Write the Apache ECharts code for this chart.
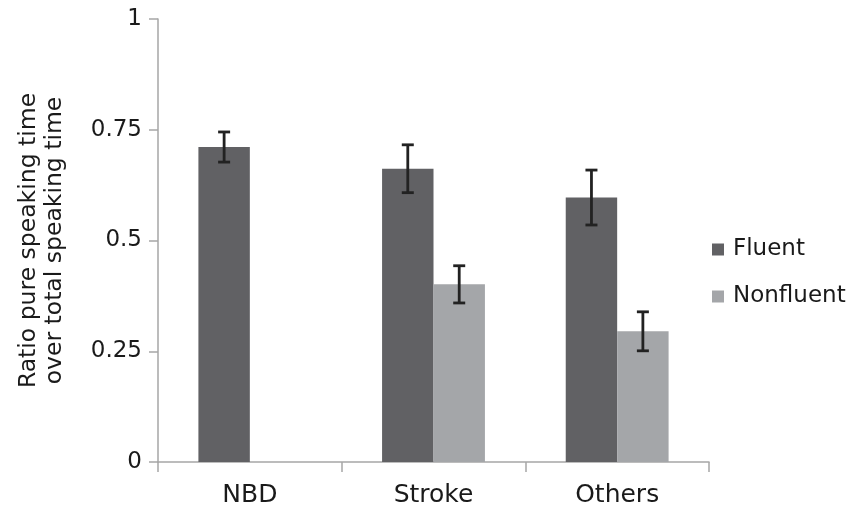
<!DOCTYPE html>
<html>
<head>
<meta charset="utf-8">
<script src="https://cdn.jsdelivr.net/npm/echarts@6/dist/echarts.min.js"></script>
<style>
html,body{margin:0;padding:0;background:#fff;}
#chart{width:855px;height:515px;}
</style>
</head>
<body>
<div id="chart"></div>
<script>
const categories = ['NBD', 'Stroke', 'Others'];
const seriesNames = ['Fluent', 'Nonfluent'];
const fluentMean = [0.711, 0.662, 0.597];
const fluentErr = [0.034, 0.054, 0.062];
const nonfluentMean = [null, 0.401, 0.295];
const nonfluentErr = [null, 0.042, 0.044];
const yTicks = [0, 0.25, 0.5, 0.75, 1];

const FONT = 'DejaVu Sans';
const colors = ['#616164', '#a4a6a9'];
const catGap = 0.44;

function errData(means, errs) {
  const out = [];
  means.forEach((m, i) => {
    if (m != null && errs[i] != null) out.push([i, m - errs[i], m + errs[i]]);
  });
  return out;
}

function errSeries(idx, means, errs) {
  return {
    type: 'custom',
    name: seriesNames[idx],
    z: 10,
    silent: true,
    data: errData(means, errs),
    encode: { x: 0, y: [1, 2] },
    renderItem: function (params, api) {
      const band = api.size([1, 0])[0];
      const barW = band * (1 - catGap) / 2;
      const off = (idx === 0 ? -1 : 1) * barW / 2;
      const lo = api.coord([api.value(0), api.value(1)]);
      const hi = api.coord([api.value(0), api.value(2)]);
      const x = lo[0] + off;
      const cap = 6;
      const style = { stroke: '#222', lineWidth: 2.8, fill: null };
      return {
        type: 'group',
        children: [
          { type: 'line', shape: { x1: x, y1: lo[1], x2: x, y2: hi[1] }, style: style },
          { type: 'line', shape: { x1: x - cap, y1: lo[1], x2: x + cap, y2: lo[1] }, style: style },
          { type: 'line', shape: { x1: x - cap, y1: hi[1], x2: x + cap, y2: hi[1] }, style: style }
        ]
      };
    }
  };
}

const chart = echarts.init(document.getElementById('chart'), null, { renderer: 'canvas' });
chart.setOption({
  backgroundColor: '#fff',
  animation: false,
  textStyle: { fontFamily: FONT },
  grid: { left: 158, right: 146, top: 19, bottom: 53, containLabel: false },
  legend: {
    orient: 'vertical',
    left: 707,
    top: 233,
    itemWidth: 12,
    itemHeight: 12,
    itemGap: 24,
    icon: 'rect',
    data: seriesNames,
    textStyle: { fontFamily: FONT, fontSize: 23, color: '#1a1a1a', padding: [0, 0, 0, 4] }
  },
  xAxis: {
    type: 'category',
    data: categories,
    axisLine: { lineStyle: { color: '#a6a6a6', width: 1.5 } },
    axisTick: { show: true, length: 10, lineStyle: { color: '#a6a6a6', width: 1.5 } },
    axisLabel: { fontFamily: FONT, fontSize: 25, color: '#1a1a1a', margin: 21 },
    splitLine: { show: false }
  },
  yAxis: {
    type: 'value',
    min: yTicks[0],
    max: yTicks[yTicks.length - 1],
    interval: 0.25,
    name: 'Ratio pure speaking time\nover total speaking time',
    nameLocation: 'middle',
    nameRotate: 90,
    nameGap: 90,
    nameTextStyle: { fontFamily: FONT, fontSize: 23.5, color: '#1a1a1a', lineHeight: 26 },
    axisLine: { show: true, lineStyle: { color: '#a6a6a6', width: 1.5 } },
    axisTick: { show: true, length: 9, lineStyle: { color: '#a6a6a6', width: 1.5 } },
    axisLabel: { fontFamily: FONT, fontSize: 23, color: '#1a1a1a', margin: 16 },
    splitLine: { show: false }
  },
  series: [
    {
      name: seriesNames[0], type: 'bar', data: fluentMean,
      barGap: '0%', barCategoryGap: (catGap * 100) + '%',
      itemStyle: { color: colors[0] }
    },
    {
      name: seriesNames[1], type: 'bar', data: nonfluentMean,
      barGap: '0%', barCategoryGap: (catGap * 100) + '%',
      itemStyle: { color: colors[1] }
    },
    errSeries(0, fluentMean, fluentErr),
    errSeries(1, nonfluentMean, nonfluentErr)
  ]
});
</script>
</body>
</html>
